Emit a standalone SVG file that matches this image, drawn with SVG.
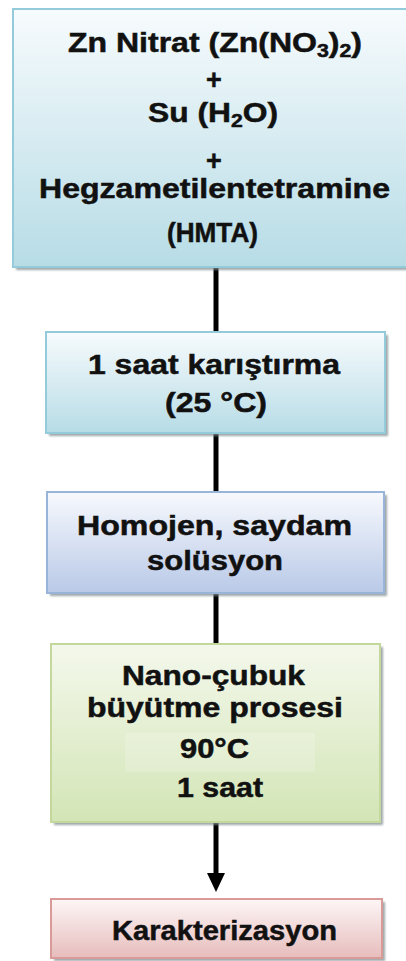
<svg xmlns="http://www.w3.org/2000/svg" width="406" height="961" viewBox="0 0 406 961">
<defs>
<linearGradient id="gBlue" x1="0" y1="0" x2="0" y2="1">
<stop offset="0" stop-color="#f7fbfd"/>
<stop offset="1" stop-color="#b7dce6"/>
</linearGradient>
<linearGradient id="gLav" x1="0" y1="0" x2="0" y2="1">
<stop offset="0" stop-color="#f7f9fd"/>
<stop offset="1" stop-color="#b9c9e7"/>
</linearGradient>
<linearGradient id="gGreen" x1="0" y1="0" x2="0" y2="1">
<stop offset="0" stop-color="#f4f8ec"/>
<stop offset="1" stop-color="#d3e5b6"/>
</linearGradient>
<linearGradient id="gRed" x1="0" y1="0" x2="0" y2="1">
<stop offset="0" stop-color="#fdf6f6"/>
<stop offset="1" stop-color="#e7bcbc"/>
</linearGradient>
<filter id="blur" x="-5%" y="-5%" width="110%" height="115%">
<feGaussianBlur stdDeviation="1.2"/>
</filter>
</defs>
<style>
.shadow{fill:#7f8a8c;opacity:0.75;filter:url(#blur)}
.box{stroke-width:2}
.t{font-family:"Liberation Sans",Arial,sans-serif;font-weight:bold;fill:#111;stroke:#111;stroke-width:0.5;text-anchor:middle;font-size:27px}
.conn{stroke:#000;stroke-width:5;fill:none}
</style>
<rect width="406" height="961" fill="#fff"/>

<g id="connectors">
<line class="conn" x1="216" y1="268" x2="216" y2="332"/>
<line class="conn" x1="216" y1="433" x2="216" y2="492"/>
<line class="conn" x1="216" y1="593" x2="216" y2="644"/>
<line class="conn" x1="216" y1="822" x2="216" y2="875"/>
<path d="M207,873 L225,873 L216,892 Z" fill="#000"/>
</g>

<g id="node1">
<rect class="shadow" x="16" y="12" width="400" height="258"/>
<rect class="box" x="13" y="9" width="400" height="258" fill="url(#gBlue)" stroke="#93cbdb"/>
<text class="t" x="215" y="52" font-size="28" textLength="294" lengthAdjust="spacingAndGlyphs">Zn Nitrat (Zn(NO<tspan font-size="18" dy="5">3</tspan><tspan dy="-5">)</tspan><tspan font-size="18" dy="5">2</tspan><tspan dy="-5">)</tspan></text>
<text class="t" x="214" y="89" font-size="32">+</text>
<text class="t" x="213" y="122" font-size="28" textLength="130" lengthAdjust="spacingAndGlyphs">Su (H<tspan font-size="18" dy="5">2</tspan><tspan dy="-5">O)</tspan></text>
<text class="t" x="214" y="170" font-size="32">+</text>
<text class="t" x="214.5" y="198" font-size="30" textLength="351" lengthAdjust="spacingAndGlyphs">Hegzametilentetramine</text>
<text class="t" x="212.5" y="242" font-size="22" textLength="91" lengthAdjust="spacingAndGlyphs">(HMTA)</text>
</g>

<g id="node2">
<rect class="shadow" x="49" y="335" width="339" height="101"/>
<rect class="box" x="46" y="332" width="339" height="101" fill="url(#gBlue)" stroke="#93cbdb"/>
<text class="t" x="214" y="374" textLength="252" lengthAdjust="spacingAndGlyphs">1 saat karıştırma</text>
<text class="t" x="216" y="412" textLength="102" lengthAdjust="spacingAndGlyphs">(25 °C)</text>
</g>

<g id="node3">
<rect class="shadow" x="50" y="495" width="337" height="101"/>
<rect class="box" x="47" y="492" width="337" height="101" fill="url(#gLav)" stroke="#98b4d8"/>
<text class="t" x="214.5" y="535" textLength="275" lengthAdjust="spacingAndGlyphs">Homojen, saydam</text>
<text class="t" x="215" y="570" textLength="136" lengthAdjust="spacingAndGlyphs">solüsyon</text>
</g>

<g id="node4">
<rect class="shadow" x="54" y="647" width="329" height="178"/>
<rect class="box" x="51" y="644" width="329" height="178" fill="url(#gGreen)" stroke="#c4d89e"/>
<rect x="125" y="733" width="190" height="39" fill="#ffffff" opacity="0.18"/>
<text class="t" x="213.5" y="685" textLength="183" lengthAdjust="spacingAndGlyphs">Nano-çubuk</text>
<text class="t" x="215" y="717" textLength="256" lengthAdjust="spacingAndGlyphs">büyütme prosesi</text>
<text class="t" x="214.5" y="758" textLength="69" lengthAdjust="spacingAndGlyphs">90°C</text>
<text class="t" x="220" y="797" textLength="86" lengthAdjust="spacingAndGlyphs">1 saat</text>
</g>

<g id="node5">
<rect class="shadow" x="54" y="902" width="331" height="59"/>
<rect class="box" x="51" y="899" width="331" height="59" fill="url(#gRed)" stroke="#da9a98"/>
<text class="t" x="224.5" y="940" font-size="26" textLength="225" lengthAdjust="spacingAndGlyphs">Karakterizasyon</text>
</g>
</svg>
